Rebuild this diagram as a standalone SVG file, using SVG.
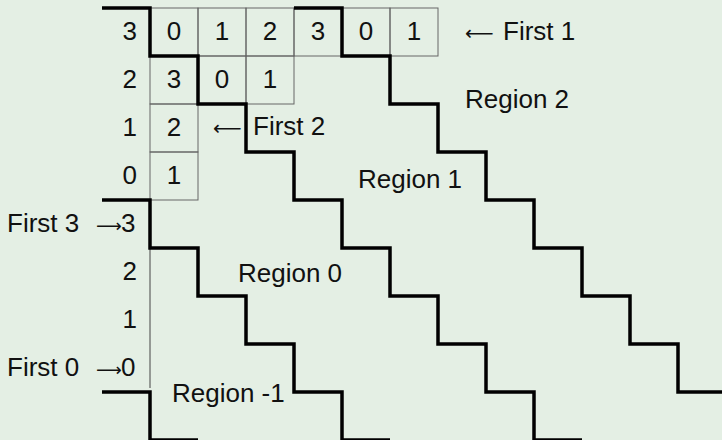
<svg xmlns="http://www.w3.org/2000/svg" width="722" height="440" viewBox="0 0 722 440">
<style>
text{font-family:"Liberation Sans","DejaVu Sans",sans-serif;font-size:26px;fill:#111}
.ar{font-family:"DejaVu Sans",sans-serif;font-size:20px}
.ar2{font-family:"DejaVu Sans",sans-serif;font-size:18px}
.c{text-anchor:middle}
.e{text-anchor:end}
.cell{fill:none;stroke:#666;stroke-width:1}
.stair{fill:none;stroke:#000;stroke-width:3.5;stroke-linejoin:miter;stroke-linecap:butt}
</style>
<rect width="722" height="440" fill="#e4efe4"/>
<g id="grid">
<rect class="cell" x="150" y="8" width="48" height="48"/>
<rect class="cell" x="198" y="8" width="48" height="48"/>
<rect class="cell" x="246" y="8" width="48" height="48"/>
<rect class="cell" x="294" y="8" width="48" height="48"/>
<rect class="cell" x="342" y="8" width="48" height="48"/>
<rect class="cell" x="390" y="8" width="48" height="48"/>
<rect class="cell" x="150" y="56" width="48" height="48"/>
<rect class="cell" x="198" y="56" width="48" height="48"/>
<rect class="cell" x="246" y="56" width="48" height="48"/>
<rect class="cell" x="150" y="104" width="48" height="48"/>
<rect class="cell" x="150" y="152" width="48" height="48"/>
<line x1="150" y1="200" x2="150" y2="388" stroke="#444" stroke-width="1"/>
<text class="c" x="174" y="40">0</text>
<text class="c" x="222" y="40">1</text>
<text class="c" x="270" y="40">2</text>
<text class="c" x="318" y="40">3</text>
<text class="c" x="366" y="40">0</text>
<text class="c" x="414" y="40">1</text>
<text class="c" x="174" y="88">3</text>
<text class="c" x="222" y="88">0</text>
<text class="c" x="270" y="88">1</text>
<text class="c" x="174" y="136">2</text>
<text class="c" x="174" y="184">1</text>
</g>
<g id="axis-labels">
<text class="e" x="137" y="40">3</text>
<text class="e" x="137" y="88">2</text>
<text class="e" x="137" y="136">1</text>
<text class="e" x="137" y="184">0</text>
<text x="7" y="232">First 3 <tspan class="ar2" x="96">⟶</tspan><tspan x="121">3</tspan></text>
<text class="e" x="137" y="280">2</text>
<text class="e" x="137" y="328">1</text>
<text x="7" y="376">First 0 <tspan class="ar2" x="96">⟶</tspan><tspan x="121">0</tspan></text>
</g>
<g id="connectors">
<path class="stair" d="M294,8 H342 V56 H390 V104 H438 V152 H486 V200 H534 V248 H582 V296 H630 V344 H678 V392 H726"/>
<path class="stair" d="M102,8 H150 V56 H198 V104 H246 V152 H294 V200 H342 V248 H390 V296 H438 V344 H486 V392 H534 V440 H582"/>
<path class="stair" d="M102,200 H150 V248 H198 V296 H246 V344 H294 V392 H342 V440 H390"/>
<path class="stair" d="M102,392 H150 V440 H198"/>
</g>
<g id="annotations">
<text x="465" y="40"><tspan class="ar">⟵</tspan> <tspan x="503">First 1</tspan></text>
<text x="213" y="135"><tspan class="ar">⟵</tspan> <tspan x="253">First 2</tspan></text>
<text x="465" y="108">Region 2</text>
<text x="358" y="188">Region 1</text>
<text x="238" y="282">Region 0</text>
<text x="172" y="402">Region -1</text>
</g>
</svg>
